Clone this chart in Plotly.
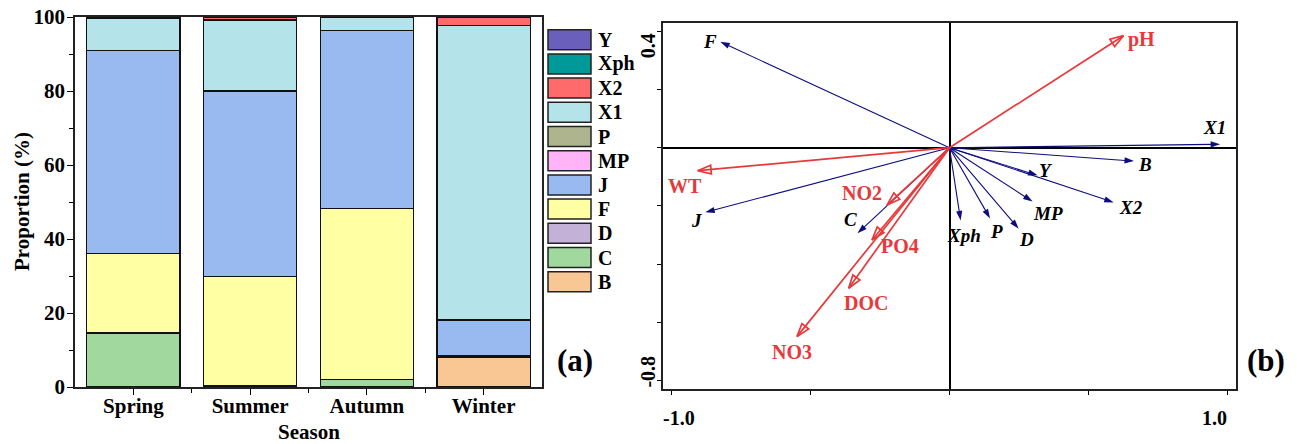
import plotly.graph_objects as go

# ---------------- data: panel (a) ----------------
seasons = ["Spring", "Summer", "Autumn", "Winter"]
taxa = ["B", "C", "D", "F", "J", "MP", "P", "X1", "X2", "Xph", "Y"]
B_vals = [0.0, 0.0, 0.0, 8.0]
C_vals = [14.4, 0.5, 2.1, 0.4]
D_vals = [0.2, 0.0, 0.0, 0.0]
F_vals = [21.4, 29.3, 46.1, 0.0]
J_vals = [54.9, 50.2, 48.2, 9.6]
MP_vals = [0.0, 0.0, 0.0, 0.0]
P_vals = [0.0, 0.0, 0.0, 0.3]
X1_vals = [8.6, 19.2, 3.4, 79.3]
X2_vals = [0.0, 0.7, 0.0, 2.4]
Xph_vals = [0.2, 0.0, 0.0, 0.0]
Y_vals = [0.3, 0.1, 0.2, 0.0]
taxa_values = [B_vals, C_vals, D_vals, F_vals, J_vals, MP_vals, P_vals,
               X1_vals, X2_vals, Xph_vals, Y_vals]
taxa_colors = ["#f9c794", "#a1d89e", "#c3b1d7", "#ffffa3", "#99b9f1", "#ffb4f8",
               "#aeb48e", "#b4e4ea", "#ff6b6b", "#00999a", "#6a5fbb"]
y_ticks_a = [0, 20, 40, 60, 80, 100]

# ---------------- data: panel (b) ----------------
species = ["F", "J", "C", "Xph", "P", "D", "MP", "Y", "X2", "B", "X1"]
species_x = [-0.825, -0.879, -0.331, 0.040, 0.146, 0.249, 0.299, 0.317, 0.591, 0.664, 0.974]
species_y = [0.364, -0.222, -0.294, -0.250, -0.243, -0.278, -0.185, -0.095, -0.188, -0.046, 0.012]
env = ["pH", "WT", "NO2", "PO4", "DOC", "NO3"]
env_x = [0.626, -0.906, -0.225, -0.279, -0.363, -0.549]
env_y = [0.385, -0.079, -0.197, -0.317, -0.483, -0.649]
x_ticks_b = [-1.0, -0.5, 0.0, 0.5, 1.0]
y_ticks_b = [-0.8, -0.6, -0.4, -0.2, 0.0, 0.2, 0.4]

# label pixel offsets (style)
species_off = {"F": (-10, 0), "J": (-9, -8), "C": (-7, 14), "Xph": (3, -15), "P": (6, -13),
               "D": (8, -11), "MP": (15, -12), "Y": (8, 5), "X2": (17, -5), "B": (11, -3),
               "X1": (-6, 17)}
env_off = {"pH": (18, -4), "WT": (-13, -15), "NO2": (-25, 12), "PO4": (28, -6),
           "DOC": (17, -15), "NO3": (-5, -15)}

FONT = "Liberation Serif"
W, H = 1297, 444
BLUE = "#0d0d80"
RED = "#e8383a"

fig = go.Figure()

xpos = list(range(len(seasons)))
for name, vals, col in zip(taxa, taxa_values, taxa_colors):
    fig.add_trace(go.Bar(x=xpos, y=vals, name=name, width=0.8,
                         marker=dict(color=col, line=dict(color="#111111", width=1.2)),
                         xaxis="x", yaxis="y", showlegend=False))

for name, xe, ye in zip(species, species_x, species_y):
    fig.add_trace(go.Scatter(x=[0, xe], y=[0, ye], mode="lines+markers",
                             line=dict(color=BLUE, width=1.1),
                             marker=dict(symbol="arrow", size=10, angleref="previous",
                                         color=BLUE),
                             xaxis="x2", yaxis="y2", showlegend=False, hoverinfo="skip"))
for name, xe, ye in zip(env, env_x, env_y):
    fig.add_trace(go.Scatter(x=[0, xe], y=[0, ye], mode="lines+markers",
                             line=dict(color=RED, width=1.7),
                             marker=dict(symbol="arrow-open", size=14, angleref="previous",
                                         color=RED, line=dict(color=RED, width=1.7)),
                             xaxis="x2", yaxis="y2", showlegend=False, hoverinfo="skip"))


def A(**kw):
    kw.setdefault("showarrow", False)
    kw.setdefault("xanchor", "center")
    kw.setdefault("yanchor", "middle")
    return kw


ann = []
for name, xe, ye in zip(species, species_x, species_y):
    dx, dy = species_off[name]
    ann.append(A(x=xe, y=ye, xref="x2", yref="y2", text=name, xshift=dx, yshift=dy,
                 font=dict(family=FONT, size=19, color="black", weight="bold", style="italic")))
for name, xe, ye in zip(env, env_x, env_y):
    dx, dy = env_off[name]
    ann.append(A(x=xe, y=ye, xref="x2", yref="y2", text=name, xshift=dx, yshift=dy,
                 font=dict(family=FONT, size=20, color=RED, weight="bold")))

# panel (b) tick labels
tfont = dict(family=FONT, size=20, color="black", weight="bold")
ann.append(A(x=-1.0, y=1 - 418 / H, xref="x2", yref="paper", text="-1.0", xshift=7, font=tfont))
ann.append(A(x=1.0, y=1 - 418 / H, xref="x2", yref="paper", text="1.0", xshift=-13, font=tfont))
ann.append(A(x=648 / W, y=0.4, xref="paper", yref="y2", text="0.4", yshift=-15,
             textangle=-90, font=tfont))
ann.append(A(x=648 / W, y=-0.8, xref="paper", yref="y2", text="-0.8", yshift=9,
             textangle=-90, font=tfont))

# axis titles and panel letters
afont = dict(family=FONT, size=21, color="black", weight="bold")
ann.append(A(x=22 / W, y=1 - 202 / H, xref="paper", yref="paper", text="Proportion (%)",
             textangle=-90, font=afont))
ann.append(A(x=309 / W, y=1 - 432 / H, xref="paper", yref="paper", text="Season", font=afont))
lfont = dict(family=FONT, size=31, color="black", weight="bold")
ann.append(A(x=575 / W, y=1 - 360 / H, xref="paper", yref="paper", text="(a)", font=lfont))
ann.append(A(x=1266 / W, y=1 - 360 / H, xref="paper", yref="paper", text="(b)", font=lfont))

# custom legend for panel (a)
shapes = []
gfont = dict(family=FONT, size=20, color="black", weight="bold")
leg_items = list(zip(taxa, taxa_colors))[::-1]
for i, (name, col) in enumerate(leg_items):
    top = 29.7 + 24.2 * i
    shapes.append(dict(type="rect", xref="paper", yref="paper",
                       x0=548 / W, x1=591 / W, y0=1 - (top + 20) / H, y1=1 - top / H,
                       fillcolor=col, line=dict(color="#222222", width=1.5)))
    ann.append(A(x=596 / W, y=1 - (top + 10) / H, xref="paper", yref="paper", text=name,
                 xanchor="left", font=gfont))

kfont = dict(family=FONT, size=21, color="black", weight="bold")
fig.update_layout(
    width=W, height=H, margin=dict(l=0, r=0, t=0, b=0, pad=0, autoexpand=False),
    paper_bgcolor="white", plot_bgcolor="white", barmode="stack",
    showlegend=False, annotations=ann, shapes=shapes,
    xaxis=dict(domain=[75 / W, 542 / W], range=[-0.5, 3.5], tickvals=xpos, ticktext=seasons,
               ticks="outside", ticklen=6, tickwidth=1.3, tickcolor="black", automargin=False,
               ticklabelstandoff=-7,
               minor=dict(tickvals=[0.5, 1.5, 2.5], ticks="outside", ticklen=4,
                          tickwidth=1.3, tickcolor="black"),
               showline=True, mirror=True, linecolor="#222222", linewidth=1.5,
               showgrid=False, zeroline=False, tickfont=kfont),
    yaxis=dict(domain=[1 - 387 / H, 1 - 17 / H], range=[0, 100], tickvals=y_ticks_a,
               ticks="outside", ticklen=6, tickwidth=1.3, tickcolor="black", automargin=False,
               ticklabelstandoff=-2,
               minor=dict(dtick=10, tick0=0, ticks="outside", ticklen=4,
                          tickwidth=1.3, tickcolor="black"),
               showline=True, mirror=True, linecolor="#222222", linewidth=1.5,
               showgrid=False, zeroline=False, tickfont=kfont),
    xaxis2=dict(domain=[663 / W, 1236 / W], range=[-1.031, 1.031], tickvals=x_ticks_b,
                ticks="outside", ticklen=4, tickwidth=1.2, tickcolor="black", automargin=False,
                showticklabels=False, showline=True, mirror=True, linecolor="#222222",
                linewidth=1.5, showgrid=False, zeroline=True, zerolinecolor="black",
                zerolinewidth=1.5, anchor="y2"),
    yaxis2=dict(domain=[1 - 389 / H, 1 - 23.3 / H], range=[-0.829, 0.4275], tickvals=y_ticks_b,
                ticks="outside", ticklen=4, tickwidth=1.2, tickcolor="black", automargin=False,
                showticklabels=False, showline=True, mirror=True, linecolor="#222222",
                linewidth=1.5, showgrid=False, zeroline=True, zerolinecolor="black",
                zerolinewidth=1.5, anchor="x2"),
)

fig.write_html("out.html")
